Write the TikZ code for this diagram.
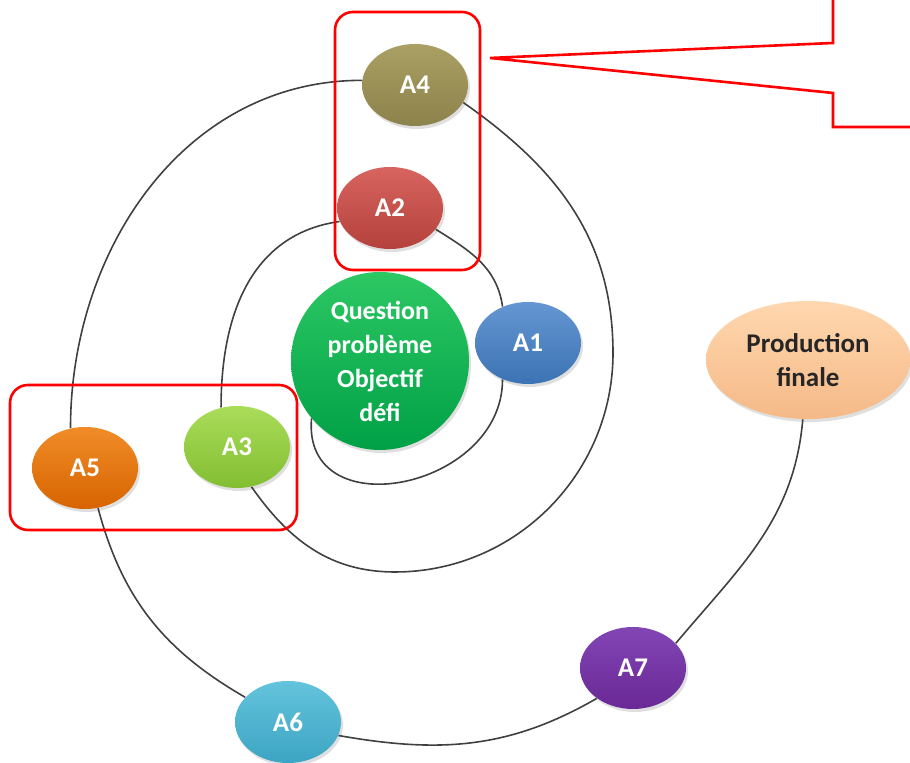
\documentclass[tikz,border=0pt]{standalone}
\usepackage{fontspec}
\setmainfont{Carlito}
\usetikzlibrary{shapes.geometric,shadows}
\definecolor{qtop}{RGB}{45,200,100}\definecolor{qbot}{RGB}{0,160,70}
\definecolor{atop}{RGB}{100,150,210}\definecolor{abot}{RGB}{60,115,180}
\definecolor{btop}{RGB}{215,100,95}\definecolor{bbot}{RGB}{180,65,60}
\definecolor{ctop}{RGB}{170,220,90}\definecolor{cbot}{RGB}{130,190,50}
\definecolor{dtop}{RGB}{170,160,100}\definecolor{dbot}{RGB}{140,130,75}
\definecolor{etop}{RGB}{240,140,40}\definecolor{ebot}{RGB}{215,100,0}
\definecolor{ftop}{RGB}{100,195,220}\definecolor{fbot}{RGB}{60,165,195}
\definecolor{gtop}{RGB}{130,70,180}\definecolor{gbot}{RGB}{105,40,150}
\definecolor{ptop}{RGB}{255,215,175}\definecolor{pbot}{RGB}{245,185,135}
\begin{document}
\begin{tikzpicture}[x=0.5pt,y=0.5pt,
  act/.style={ellipse,minimum width=53pt,minimum height=41pt,inner sep=0pt,text=white,
    font=\fontsize{13.5}{17}\selectfont\bfseries,
    drop shadow={opacity=0.25,shadow xshift=1pt,shadow yshift=-1.5pt}},
  spiral/.style={draw=black!75,line width=0.8pt},
  redbox/.style={draw=red,line width=1.3pt,rounded corners=9pt}]
\useasboundingbox (0,0) rectangle (910,763);
\node[circle,minimum size=89pt,inner sep=0pt,top color=qtop,bottom color=qbot,align=center,text=white,
  font=\fontsize{13}{17}\selectfont\bfseries,drop shadow={opacity=0.25,shadow xshift=1pt,shadow yshift=-1.5pt}]
  (Q) at (380,402) {Question\\problème\\Objectif\\défi};
\node[act,top color=atop,bottom color=abot] (A1) at (528,420) {A1};
\node[act,top color=btop,bottom color=bbot] (A2) at (390,555) {A2};
\node[act,top color=ctop,bottom color=cbot] (A3) at (237,316) {A3};
\node[act,top color=dtop,bottom color=dbot] (A4) at (415,678) {A4};
\node[act,top color=etop,bottom color=ebot] (A5) at (85,295) {A5};
\node[act,top color=ftop,bottom color=fbot] (A6) at (288,41) {A6};
\node[act,top color=gtop,bottom color=gbot] (A7) at (633,95) {A7};
\node[act,minimum width=102pt,minimum height=59pt,align=center,text=black!85,top color=ptop,bottom color=pbot]
  (PF) at (808,403) {Production\\finale};
\coordinate (c1) at (395,191);
\coordinate (c2) at (613,410);
\draw[spiral] (Q.220) to[out=-95,in=-90,looseness=1.45] (A1.235);
\draw[spiral] (A1.125) to[out=98,in=-32] (A2.-25);
\draw[spiral] (A2.195) to[out=188,in=90,looseness=1.05] (A3.112);
\draw[spiral] (A3.-70) to[out=-55,in=180] (c1) to[out=0,in=-90] (c2) to[out=90,in=-35] (A4.-20);
\draw[spiral] (A4.175) to[out=180,in=90] (A5.110);
\draw[spiral] (A5.-72) to[out=-75,in=150] (A6.150);
\draw[spiral] (A6.-15) to[out=-10,in=-150] (A7.-140);
\draw[spiral] (A7.30) to[out=50,in=-95] (PF.-95);
\draw[redbox] (335,493) rectangle (480,751);
\draw[redbox] (10,233) rectangle (297,378);
\draw[red,line width=1.3pt] (833,775) -- (833,720) -- (490,705) -- (833,670) -- (833,636) -- (920,636);
\end{tikzpicture}
\end{document}
